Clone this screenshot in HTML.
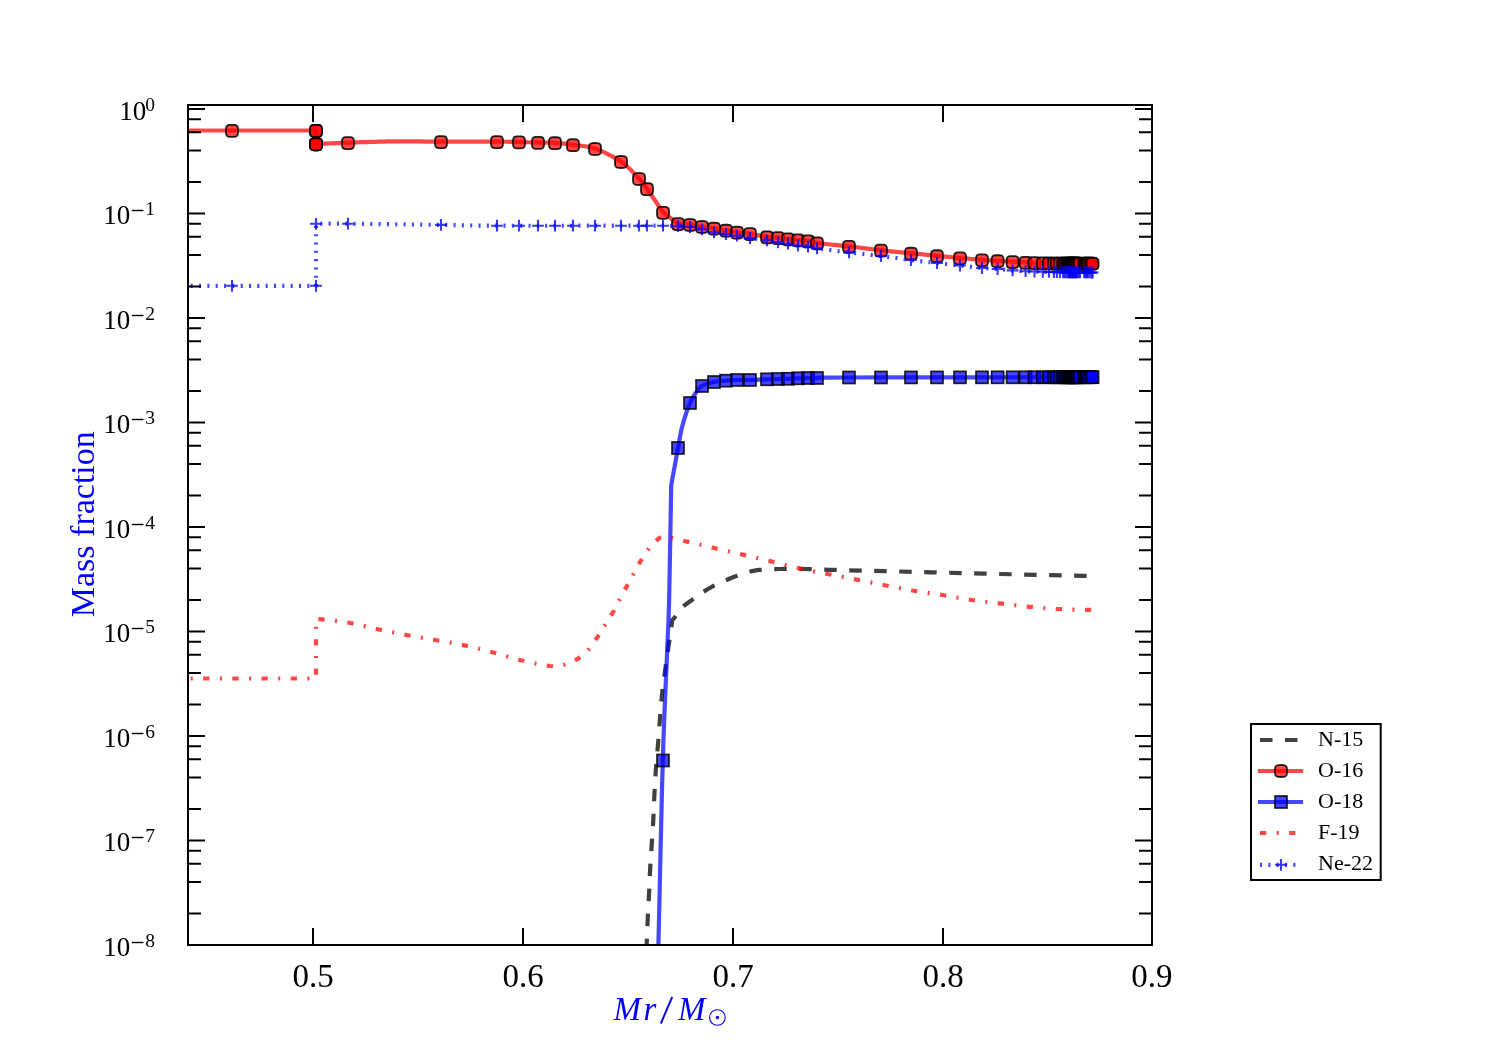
<!DOCTYPE html>
<html><head><meta charset="utf-8"><title>Mass fraction</title>
<style>html,body{margin:0;padding:0;background:#fff;}svg{display:block;will-change:transform;}</style></head>
<body><svg width="1500" height="1050" viewBox="0 0 1500 1050">
<rect x="0" y="0" width="1500" height="1050" fill="#fff"/>
<defs><path id="m16" d="M6.00 0.00 L5.97 1.94 L5.89 2.83 L5.74 3.52 L5.54 4.08 L5.28 4.55 L4.95 4.95 L4.55 5.28 L4.08 5.54 L3.52 5.74 L2.83 5.89 L1.94 5.97 L0.00 6.00 L-1.94 5.97 L-2.83 5.89 L-3.52 5.74 L-4.08 5.54 L-4.55 5.28 L-4.95 4.95 L-5.28 4.55 L-5.54 4.08 L-5.74 3.52 L-5.89 2.83 L-5.97 1.94 L-6.00 0.00 L-5.97 -1.94 L-5.89 -2.83 L-5.74 -3.52 L-5.54 -4.08 L-5.28 -4.55 L-4.95 -4.95 L-4.55 -5.28 L-4.08 -5.54 L-3.52 -5.74 L-2.83 -5.89 L-1.94 -5.97 L-0.00 -6.00 L1.94 -5.97 L2.83 -5.89 L3.52 -5.74 L4.08 -5.54 L4.55 -5.28 L4.95 -4.95 L5.28 -4.55 L5.54 -4.08 L5.74 -3.52 L5.89 -2.83 L5.97 -1.94Z" fill="rgba(255,0,0,0.72)" stroke="rgba(0,0,0,0.85)" stroke-width="1.8"/>
<rect id="m18" x="-6" y="-6" width="12" height="12" fill="rgba(0,0,255,0.72)" stroke="rgba(0,0,0,0.85)" stroke-width="1.7"/></defs>
<defs><clipPath id="ax"><rect x="188" y="105" width="964" height="840"/></clipPath></defs>
<g clip-path="url(#ax)">
<path d="M643.90 1010.00 L644.24 1001.94 L644.73 990.35 L645.29 976.84 L645.87 963.04 L646.40 950.55 L646.80 941.00 L647.06 934.70 L647.23 930.43 L647.35 927.48 L647.44 925.14 L647.55 922.71 L647.70 919.50 L647.90 915.59 L648.11 911.55 L648.34 907.43 L648.57 903.25 L648.79 899.06 L649.00 894.90 L649.19 890.75 L649.36 886.57 L649.53 882.38 L649.70 878.19 L649.89 873.99 L650.10 869.80 L650.34 865.62 L650.60 861.43 L650.87 857.25 L651.15 853.07 L651.43 848.88 L651.70 844.70 L651.97 840.52 L652.25 836.33 L652.53 832.14 L652.80 827.96 L653.06 823.78 L653.30 819.60 L653.51 815.43 L653.69 811.28 L653.86 807.12 L654.02 802.97 L654.20 798.79 L654.40 794.60 L654.62 790.37 L654.85 786.11 L655.09 781.84 L655.34 777.57 L655.61 773.32 L655.90 769.10 L656.22 764.93 L656.56 760.79 L656.92 756.66 L657.29 752.55 L657.65 748.43 L658.00 744.30 L658.33 740.15 L658.64 736.00 L658.95 731.85 L659.26 727.70 L659.57 723.55 L659.90 719.40 L660.23 715.25 L660.55 711.10 L660.87 706.96 L661.22 702.82 L661.59 698.70 L662.00 694.60 L662.45 690.54 L662.94 686.51 L663.46 682.49 L664.00 678.48 L664.55 674.46 L665.10 670.40 L665.67 666.24 L666.26 661.98 L666.87 657.71 L667.47 653.51 L668.05 649.48 L668.60 645.70 L669.13 642.10 L669.66 638.59 L670.16 635.24 L670.63 632.14 L671.05 629.37 L671.40 627.00 L671.67 625.08 L671.87 623.54 L672.02 622.33 L672.14 621.38 L672.22 620.63 L672.30 620.00 L672.54 619.75 L672.81 619.48 L673.17 619.12 L673.63 618.63 L674.23 617.94 L675.00 617.00 L675.96 615.71 L677.10 614.10 L678.38 612.29 L679.76 610.42 L681.21 608.61 L682.70 607.00 L684.27 605.58 L685.94 604.25 L687.69 602.98 L689.47 601.75 L691.25 600.53 L693.00 599.30 L694.71 598.05 L696.42 596.80 L698.12 595.56 L699.84 594.34 L701.56 593.15 L703.30 592.00 L705.05 590.88 L706.80 589.79 L708.56 588.73 L710.34 587.70 L712.15 586.69 L714.00 585.70 L715.89 584.74 L717.83 583.80 L719.79 582.89 L721.77 582.01 L723.74 581.14 L725.70 580.30 L727.56 579.50 L729.32 578.73 L731.08 577.99 L732.93 577.26 L734.97 576.50 L737.30 575.70 L739.92 574.81 L742.76 573.84 L745.79 572.85 L748.99 571.90 L752.33 571.07 L755.80 570.40 L759.44 569.92 L763.29 569.59 L767.28 569.37 L771.37 569.22 L775.49 569.11 L779.60 569.00 L783.72 568.91 L787.90 568.87 L792.11 568.86 L796.35 568.89 L800.58 568.94 L804.80 569.00 L808.48 569.08 L811.54 569.17 L814.60 569.29 L818.28 569.44 L823.21 569.61 L830.00 569.80 L838.73 570.02 L848.90 570.27 L860.33 570.54 L872.79 570.84 L886.08 571.16 L900.00 571.50 L915.02 571.88 L931.39 572.29 L948.59 572.73 L966.10 573.17 L983.41 573.60 L1000.00 574.00 L1016.93 574.39 L1034.84 574.78 L1052.55 575.16 L1068.87 575.50 L1082.61 575.79 L1092.60 576.00" fill="none" stroke="rgba(0,0,0,0.75)" stroke-width="4.20" stroke-dasharray="12.5 12.5" stroke-dashoffset="-9" stroke-linejoin="round"/>
<path d="M174.00 130.50 L316.00 130.50 L316.00 143.90 L319.54 143.77 L324.48 143.58 L330.31 143.36 L336.52 143.12 L342.59 142.90 L348.00 142.70 L352.80 142.53 L357.41 142.36 L361.88 142.21 L366.26 142.06 L370.62 141.92 L375.00 141.80 L379.23 141.68 L383.22 141.57 L387.19 141.47 L391.33 141.39 L395.87 141.33 L401.00 141.30 L406.67 141.32 L412.70 141.38 L419.12 141.47 L425.96 141.56 L433.25 141.65 L441.00 141.70 L449.80 141.72 L459.74 141.72 L470.12 141.71 L480.26 141.69 L489.45 141.69 L497.00 141.70 L502.67 141.73 L506.96 141.77 L510.31 141.82 L513.15 141.87 L515.90 141.93 L519.00 142.00 L522.36 142.07 L525.63 142.16 L528.81 142.25 L531.93 142.34 L534.98 142.43 L538.00 142.50 L540.94 142.54 L543.78 142.55 L546.56 142.56 L549.33 142.58 L552.13 142.65 L555.00 142.80 L557.90 143.01 L560.78 143.27 L563.69 143.58 L566.67 143.94 L569.76 144.34 L573.00 144.80 L576.39 145.22 L579.89 145.59 L583.50 146.01 L587.22 146.59 L591.06 147.41 L595.00 148.60 L599.19 150.19 L603.67 152.10 L608.25 154.28 L612.78 156.63 L617.08 159.10 L621.00 161.60 L624.58 164.28 L627.96 167.22 L631.12 170.27 L634.04 173.29 L636.67 176.11 L639.00 178.60 L640.82 180.54 L642.11 182.01 L643.12 183.29 L644.11 184.66 L645.32 186.40 L647.00 188.80 L649.39 192.23 L652.33 196.55 L655.50 201.24 L658.56 205.79 L661.17 209.68 L663.00 212.40 L678.00 223.70 L679.31 223.79 L681.11 223.89 L683.25 224.02 L685.56 224.19 L687.86 224.38 L690.00 224.60 L692.00 224.87 L694.00 225.20 L696.00 225.55 L698.00 225.91 L700.00 226.27 L702.00 226.60 L704.00 226.90 L706.00 227.18 L708.00 227.45 L710.00 227.72 L712.00 228.00 L714.00 228.30 L716.01 228.62 L718.04 228.94 L720.06 229.28 L722.07 229.62 L724.06 229.96 L726.00 230.30 L727.87 230.64 L729.67 230.99 L731.44 231.34 L733.22 231.68 L735.06 232.00 L737.00 232.30 L739.00 232.55 L741.04 232.74 L743.12 232.92 L745.30 233.11 L747.58 233.36 L750.00 233.70 L752.67 234.17 L755.59 234.76 L758.62 235.39 L761.63 236.02 L764.47 236.58 L767.00 237.00 L769.19 237.26 L771.15 237.40 L772.94 237.47 L774.63 237.52 L776.29 237.58 L778.00 237.70 L779.72 237.89 L781.41 238.10 L783.06 238.33 L784.70 238.57 L786.34 238.79 L788.00 239.00 L789.67 239.18 L791.33 239.36 L793.00 239.52 L794.67 239.68 L796.33 239.84 L798.00 240.00 L799.68 240.16 L801.37 240.30 L803.06 240.44 L804.74 240.59 L806.39 240.78 L808.00 241.00 L809.29 241.26 L810.22 241.54 L811.12 241.85 L812.33 242.19 L814.18 242.57 L817.00 243.00 L821.00 243.48 L825.96 244.01 L831.56 244.59 L837.48 245.19 L843.40 245.79 L849.00 246.40 L854.36 247.02 L859.74 247.66 L865.12 248.32 L870.48 248.97 L875.78 249.60 L881.00 250.20 L886.16 250.76 L891.30 251.31 L896.38 251.83 L901.37 252.34 L906.25 252.83 L911.00 253.30 L915.60 253.75 L920.07 254.19 L924.44 254.61 L928.70 255.01 L932.89 255.41 L937.00 255.80 L941.02 256.19 L944.93 256.57 L948.75 256.94 L952.52 257.30 L956.26 257.65 L960.00 258.00 L963.80 258.35 L967.64 258.69 L971.46 259.03 L975.18 259.35 L978.72 259.64 L982.00 259.90 L984.98 260.11 L987.70 260.27 L990.24 260.41 L992.68 260.54 L995.11 260.66 L997.60 260.80 L1000.16 260.95 L1002.72 261.11 L1005.26 261.26 L1007.77 261.41 L1010.22 261.56 L1012.60 261.70 L1014.93 261.83 L1017.23 261.96 L1019.48 262.09 L1021.64 262.20 L1023.69 262.31 L1025.60 262.40 L1027.33 262.47 L1028.89 262.53 L1030.34 262.57 L1031.73 262.61 L1033.10 262.65 L1034.50 262.70 L1035.82 262.75 L1036.98 262.80 L1038.13 262.86 L1039.40 262.91 L1040.91 262.96 L1042.80 263.00 L1044.97 263.04 L1047.30 263.08 L1049.88 263.11 L1052.80 263.14 L1056.14 263.17 L1060.00 263.20 L1064.92 263.22 L1070.93 263.24 L1077.38 263.26 L1083.58 263.28 L1088.87 263.29 L1092.60 263.30" fill="none" stroke="rgba(255,0,0,0.72)" stroke-width="4.20" stroke-linejoin="round" stroke-linecap="square"/>
<use href="#m16" x="232.00" y="130.90"/>
<use href="#m16" x="316.00" y="130.90"/>
<use href="#m16" x="316.00" y="130.90"/>
<use href="#m16" x="316.00" y="144.30"/>
<use href="#m16" x="316.00" y="144.30"/>
<use href="#m16" x="316.00" y="144.30"/>
<use href="#m16" x="348.00" y="143.10"/>
<use href="#m16" x="441.00" y="142.10"/>
<use href="#m16" x="497.00" y="142.10"/>
<use href="#m16" x="519.00" y="142.40"/>
<use href="#m16" x="538.00" y="142.90"/>
<use href="#m16" x="555.00" y="143.20"/>
<use href="#m16" x="573.00" y="145.20"/>
<use href="#m16" x="595.00" y="149.00"/>
<use href="#m16" x="621.00" y="162.00"/>
<use href="#m16" x="639.00" y="179.00"/>
<use href="#m16" x="647.00" y="189.20"/>
<use href="#m16" x="663.00" y="212.80"/>
<use href="#m16" x="678.00" y="224.10"/>
<use href="#m16" x="690.00" y="225.00"/>
<use href="#m16" x="702.00" y="227.00"/>
<use href="#m16" x="714.00" y="228.70"/>
<use href="#m16" x="726.00" y="230.70"/>
<use href="#m16" x="737.00" y="232.70"/>
<use href="#m16" x="750.00" y="234.10"/>
<use href="#m16" x="767.00" y="237.40"/>
<use href="#m16" x="778.00" y="238.10"/>
<use href="#m16" x="788.00" y="239.40"/>
<use href="#m16" x="798.00" y="240.40"/>
<use href="#m16" x="808.00" y="241.40"/>
<use href="#m16" x="817.00" y="243.40"/>
<use href="#m16" x="849.00" y="246.80"/>
<use href="#m16" x="881.00" y="250.60"/>
<use href="#m16" x="911.00" y="253.70"/>
<use href="#m16" x="937.00" y="256.20"/>
<use href="#m16" x="960.00" y="258.40"/>
<use href="#m16" x="982.00" y="260.30"/>
<use href="#m16" x="997.60" y="261.20"/>
<use href="#m16" x="1012.60" y="262.10"/>
<use href="#m16" x="1025.60" y="262.80"/>
<use href="#m16" x="1034.50" y="263.10"/>
<use href="#m16" x="1042.80" y="263.40"/>
<use href="#m16" x="1049.00" y="263.47"/>
<use href="#m16" x="1053.90" y="263.53"/>
<use href="#m16" x="1056.90" y="263.56"/>
<use href="#m16" x="1059.90" y="263.60"/>
<use href="#m16" x="1063.20" y="263.61"/>
<use href="#m16" x="1064.80" y="263.61"/>
<use href="#m16" x="1066.40" y="263.62"/>
<use href="#m16" x="1068.00" y="263.62"/>
<use href="#m16" x="1069.00" y="263.63"/>
<use href="#m16" x="1069.80" y="263.63"/>
<use href="#m16" x="1070.60" y="263.63"/>
<use href="#m16" x="1071.40" y="263.63"/>
<use href="#m16" x="1072.20" y="263.64"/>
<use href="#m16" x="1073.00" y="263.64"/>
<use href="#m16" x="1073.80" y="263.64"/>
<use href="#m16" x="1074.60" y="263.64"/>
<use href="#m16" x="1075.40" y="263.65"/>
<use href="#m16" x="1076.20" y="263.65"/>
<use href="#m16" x="1077.00" y="263.65"/>
<use href="#m16" x="1078.50" y="263.66"/>
<use href="#m16" x="1080.00" y="263.66"/>
<use href="#m16" x="1084.20" y="263.67"/>
<use href="#m16" x="1085.50" y="263.68"/>
<use href="#m16" x="1086.80" y="263.68"/>
<use href="#m16" x="1087.80" y="263.69"/>
<use href="#m16" x="1089.50" y="263.69"/>
<use href="#m16" x="1091.40" y="263.70"/>
<use href="#m16" x="1092.60" y="263.70"/>
<path d="M656.20 1010.00 L656.41 1004.18 L656.69 997.24 L657.02 988.47 L657.42 977.15 L657.88 962.56 L658.40 944.00 L659.01 919.37 L659.70 888.83 L660.46 855.03 L661.25 820.61 L662.04 788.22 L662.80 760.50 L663.56 737.16 L664.36 716.02 L665.16 696.91 L665.92 679.65 L666.61 664.07 L667.20 650.00 L667.66 638.91 L668.01 631.24 L668.29 625.26 L668.54 619.21 L668.80 611.37 L669.10 600.00 L669.46 583.31 L669.86 562.34 L670.27 539.58 L670.65 517.50 L670.97 498.62 L671.20 485.40 L671.98 481.11 L673.09 474.99 L674.39 467.82 L675.74 460.41 L676.99 453.54 L678.00 448.00 L678.79 443.67 L679.48 439.90 L680.08 436.66 L680.57 433.95 L680.98 431.73 L681.30 430.00 L681.66 428.66 L682.14 426.83 L682.72 424.66 L683.38 422.28 L684.08 419.84 L684.80 417.50 L685.56 415.15 L686.38 412.67 L687.24 410.12 L688.14 407.61 L689.07 405.21 L690.00 403.00 L690.95 400.97 L691.94 399.06 L692.95 397.25 L693.97 395.56 L694.99 393.97 L696.00 392.50 L696.93 391.16 L697.78 389.94 L698.62 388.84 L699.56 387.83 L700.65 386.89 L702.00 386.00 L703.65 385.16 L705.56 384.38 L707.62 383.68 L709.78 383.04 L711.93 382.48 L714.00 382.00 L716.01 381.62 L718.04 381.34 L720.06 381.14 L722.07 380.99 L724.06 380.85 L726.00 380.70 L727.87 380.54 L729.67 380.40 L731.44 380.27 L733.22 380.16 L735.06 380.07 L737.00 380.00 L739.00 379.97 L741.04 379.97 L743.12 380.00 L745.30 380.03 L747.58 380.03 L750.00 380.00 L752.67 379.92 L755.59 379.80 L758.62 379.67 L761.63 379.53 L764.47 379.40 L767.00 379.30 L769.19 379.23 L771.15 379.17 L772.94 379.12 L774.63 379.08 L776.29 379.04 L778.00 379.00 L779.72 378.96 L781.41 378.94 L783.06 378.91 L784.70 378.89 L786.34 378.85 L788.00 378.80 L789.67 378.73 L791.33 378.65 L793.00 378.56 L794.67 378.46 L796.33 378.38 L798.00 378.30 L799.68 378.23 L801.37 378.17 L803.06 378.12 L804.74 378.07 L806.39 378.03 L808.00 378.00 L809.29 377.99 L810.22 378.00 L811.12 378.01 L812.33 378.03 L814.18 378.03 L817.00 378.00 L818.55 377.94 L818.13 377.86 L818.34 377.77 L821.81 377.67 L831.16 377.58 L849.00 377.50 L880.17 377.43 L923.55 377.37 L972.80 377.32 L1021.61 377.27 L1063.65 377.23 L1092.60 377.20" fill="none" stroke="rgba(0,0,255,0.72)" stroke-width="4.20" stroke-linejoin="round" stroke-linecap="square"/>
<use href="#m18" x="663.00" y="760.50"/>
<use href="#m18" x="678.00" y="448.00"/>
<use href="#m18" x="690.00" y="403.00"/>
<use href="#m18" x="702.00" y="386.00"/>
<use href="#m18" x="714.00" y="382.00"/>
<use href="#m18" x="726.00" y="380.70"/>
<use href="#m18" x="737.00" y="380.00"/>
<use href="#m18" x="750.00" y="380.00"/>
<use href="#m18" x="767.00" y="379.30"/>
<use href="#m18" x="778.00" y="379.00"/>
<use href="#m18" x="788.00" y="378.80"/>
<use href="#m18" x="798.00" y="378.30"/>
<use href="#m18" x="808.00" y="378.00"/>
<use href="#m18" x="817.00" y="378.00"/>
<use href="#m18" x="849.00" y="377.50"/>
<use href="#m18" x="881.00" y="377.46"/>
<use href="#m18" x="911.00" y="377.42"/>
<use href="#m18" x="937.00" y="377.39"/>
<use href="#m18" x="960.00" y="377.36"/>
<use href="#m18" x="982.00" y="377.34"/>
<use href="#m18" x="997.60" y="377.32"/>
<use href="#m18" x="1012.60" y="377.30"/>
<use href="#m18" x="1025.60" y="377.28"/>
<use href="#m18" x="1034.50" y="377.27"/>
<use href="#m18" x="1042.80" y="377.26"/>
<use href="#m18" x="1049.00" y="377.25"/>
<use href="#m18" x="1053.90" y="377.25"/>
<use href="#m18" x="1056.90" y="377.24"/>
<use href="#m18" x="1059.90" y="377.24"/>
<use href="#m18" x="1063.20" y="377.24"/>
<use href="#m18" x="1064.80" y="377.23"/>
<use href="#m18" x="1066.40" y="377.23"/>
<use href="#m18" x="1068.00" y="377.23"/>
<use href="#m18" x="1069.00" y="377.23"/>
<use href="#m18" x="1069.80" y="377.23"/>
<use href="#m18" x="1070.60" y="377.23"/>
<use href="#m18" x="1071.40" y="377.23"/>
<use href="#m18" x="1072.20" y="377.23"/>
<use href="#m18" x="1073.00" y="377.22"/>
<use href="#m18" x="1073.80" y="377.22"/>
<use href="#m18" x="1074.60" y="377.22"/>
<use href="#m18" x="1075.40" y="377.22"/>
<use href="#m18" x="1076.20" y="377.22"/>
<use href="#m18" x="1077.00" y="377.22"/>
<use href="#m18" x="1078.50" y="377.22"/>
<use href="#m18" x="1080.00" y="377.22"/>
<use href="#m18" x="1084.20" y="377.21"/>
<use href="#m18" x="1085.50" y="377.21"/>
<use href="#m18" x="1086.80" y="377.21"/>
<use href="#m18" x="1087.80" y="377.21"/>
<use href="#m18" x="1089.50" y="377.20"/>
<use href="#m18" x="1091.40" y="377.20"/>
<use href="#m18" x="1092.60" y="377.20"/>
<path d="M174 678.5 L316 678.5 L316 618.7 L316.00 618.70 L319.80 619.14 L325.10 619.73 L331.36 620.44 L338.02 621.24 L344.52 622.11 L350.30 623.00 L355.40 623.97 L360.26 625.03 L364.96 626.16 L369.58 627.31 L374.20 628.44 L378.90 629.50 L383.66 630.50 L388.42 631.49 L393.18 632.44 L397.94 633.38 L402.72 634.30 L407.50 635.20 L412.31 636.07 L417.14 636.91 L421.97 637.73 L426.81 638.54 L431.62 639.36 L436.40 640.20 L441.14 641.03 L445.84 641.85 L450.52 642.67 L455.20 643.52 L459.88 644.42 L464.60 645.40 L469.35 646.47 L474.13 647.60 L478.93 648.79 L483.71 650.01 L488.48 651.25 L493.20 652.50 L497.87 653.78 L502.49 655.13 L507.08 656.49 L511.68 657.83 L516.31 659.11 L521.00 660.30 L525.92 661.45 L531.09 662.61 L536.28 663.71 L541.29 664.69 L545.90 665.47 L549.90 666.00 L553.17 666.25 L555.86 666.28 L558.15 666.12 L560.22 665.80 L562.24 665.35 L564.40 664.80 L566.66 664.14 L568.88 663.34 L571.06 662.42 L573.19 661.38 L575.27 660.23 L577.30 659.00 L579.30 657.66 L581.26 656.20 L583.17 654.63 L585.02 652.98 L586.80 651.27 L588.50 649.50 L590.09 647.66 L591.59 645.72 L593.02 643.72 L594.40 641.68 L595.75 639.63 L597.10 637.60 L598.44 635.58 L599.74 633.55 L601.01 631.51 L602.27 629.47 L603.53 627.43 L604.80 625.40 L606.08 623.39 L607.37 621.39 L608.66 619.40 L609.93 617.40 L611.18 615.37 L612.40 613.30 L613.58 611.18 L614.72 609.03 L615.84 606.84 L616.96 604.65 L618.07 602.47 L619.20 600.30 L620.34 598.15 L621.49 596.01 L622.64 593.87 L623.80 591.74 L624.95 589.62 L626.10 587.50 L627.25 585.39 L628.40 583.28 L629.56 581.18 L630.71 579.09 L631.86 576.99 L633.00 574.90 L634.12 572.81 L635.21 570.73 L636.31 568.66 L637.42 566.58 L638.58 564.49 L639.80 562.40 L641.09 560.27 L642.43 558.11 L643.81 555.94 L645.23 553.79 L646.69 551.70 L648.20 549.70 L649.80 547.71 L651.50 545.69 L653.24 543.73 L654.97 541.91 L656.61 540.30 L658.10 539.00 L659.43 538.03 L660.66 537.32 L661.79 536.83 L662.88 536.51 L663.94 536.32 L665.00 536.20 L665.95 536.19 L666.75 536.34 L667.52 536.61 L668.40 536.96 L669.52 537.37 L671.00 537.80 L672.93 538.28 L675.23 538.84 L677.77 539.46 L680.41 540.09 L683.03 540.72 L685.50 541.30 L687.82 541.83 L690.09 542.34 L692.34 542.84 L694.60 543.34 L696.87 543.86 L699.20 544.40 L701.43 544.94 L703.50 545.46 L705.61 545.99 L707.91 546.57 L710.58 547.23 L713.80 548.00 L717.67 548.90 L722.09 549.90 L726.87 550.99 L731.87 552.12 L736.90 553.27 L741.80 554.40 L746.64 555.53 L751.55 556.69 L756.50 557.86 L761.45 559.04 L766.36 560.23 L771.20 561.40 L775.95 562.58 L780.64 563.79 L785.29 564.99 L789.92 566.17 L794.55 567.31 L799.20 568.40 L803.85 569.41 L808.48 570.37 L813.11 571.29 L817.76 572.19 L822.45 573.08 L827.20 574.00 L832.04 574.93 L836.95 575.87 L841.90 576.80 L846.85 577.73 L851.76 578.67 L856.60 579.60 L861.33 580.53 L865.99 581.47 L870.60 582.40 L875.21 583.33 L879.87 584.27 L884.60 585.20 L889.44 586.15 L894.35 587.12 L899.30 588.09 L904.25 589.04 L909.16 589.95 L914.00 590.80 L918.75 591.57 L923.44 592.28 L928.09 592.95 L932.72 593.61 L937.35 594.28 L942.00 595.00 L946.65 595.78 L951.28 596.60 L955.91 597.44 L960.56 598.27 L965.25 599.06 L970.00 599.80 L974.82 600.47 L979.70 601.10 L984.61 601.69 L989.55 602.26 L994.48 602.83 L999.40 603.40 L1004.32 603.99 L1009.25 604.59 L1014.19 605.19 L1019.10 605.76 L1023.98 606.31 L1028.80 606.80 L1033.46 607.25 L1037.95 607.67 L1042.40 608.05 L1046.94 608.40 L1051.70 608.72 L1056.80 609.00 L1062.73 609.25 L1069.48 609.46 L1076.45 609.64 L1083.03 609.79 L1088.61 609.91 L1092.60 610.00" fill="none" stroke="rgba(255,0,0,0.72)" stroke-width="4.20" stroke-dasharray="6.25 10.42 2.08 10.42" stroke-linejoin="round"/>
<path d="M174 285.8 L316 285.8 L316 223.8 L316.00 223.80 L318.78 223.77 L322.04 223.73 L326.19 223.68 L331.63 223.64 L338.77 223.64 L348.00 223.70 L360.40 223.83 L375.85 224.02 L393.00 224.24 L410.48 224.48 L426.94 224.71 L441.00 224.90 L451.20 225.07 L458.33 225.23 L464.44 225.38 L471.56 225.51 L481.73 225.62 L497.00 225.70 L520.05 225.74 L549.78 225.74 L582.56 225.72 L614.78 225.69 L642.80 225.68 L663.00 225.70 L674.27 225.75 L679.30 225.82 L680.12 225.90 L678.81 225.99 L677.42 226.09 L678.00 226.20 L680.17 226.30 L682.22 226.39 L684.19 226.49 L686.11 226.61 L688.03 226.78 L690.00 227.00 L692.00 227.29 L694.00 227.63 L696.00 228.01 L698.00 228.43 L700.00 228.86 L702.00 229.30 L704.00 229.77 L706.00 230.30 L708.00 230.84 L710.00 231.37 L712.00 231.87 L714.00 232.30 L716.01 232.66 L718.04 232.96 L720.06 233.23 L722.07 233.48 L724.06 233.73 L726.00 234.00 L727.87 234.28 L729.67 234.54 L731.44 234.81 L733.22 235.09 L735.06 235.38 L737.00 235.70 L739.00 236.05 L741.04 236.42 L743.12 236.81 L745.30 237.21 L747.58 237.61 L750.00 238.00 L752.67 238.39 L755.59 238.78 L758.62 239.17 L761.63 239.56 L764.47 239.93 L767.00 240.30 L769.19 240.66 L771.15 241.01 L772.94 241.36 L774.63 241.69 L776.29 242.00 L778.00 242.30 L779.72 242.56 L781.41 242.80 L783.06 243.01 L784.70 243.23 L786.34 243.45 L788.00 243.70 L789.67 243.98 L791.33 244.30 L793.00 244.62 L794.67 244.94 L796.33 245.24 L798.00 245.50 L799.68 245.72 L801.37 245.90 L803.06 246.06 L804.74 246.21 L806.39 246.39 L808.00 246.60 L809.29 246.82 L810.22 247.03 L811.12 247.26 L812.33 247.53 L814.18 247.87 L817.00 248.30 L821.00 248.85 L825.96 249.51 L831.56 250.23 L837.48 250.98 L843.40 251.72 L849.00 252.40 L854.36 253.02 L859.74 253.62 L865.12 254.21 L870.48 254.79 L875.78 255.38 L881.00 256.00 L886.16 256.66 L891.30 257.34 L896.38 258.04 L901.37 258.73 L906.25 259.39 L911.00 260.00 L915.60 260.56 L920.07 261.09 L924.44 261.59 L928.70 262.07 L932.89 262.54 L937.00 263.00 L941.02 263.45 L944.93 263.87 L948.75 264.28 L952.52 264.69 L956.26 265.09 L960.00 265.50 L963.80 265.93 L967.64 266.39 L971.46 266.84 L975.18 267.28 L978.72 267.67 L982.00 268.00 L984.98 268.25 L987.70 268.43 L990.24 268.57 L992.68 268.69 L995.11 268.83 L997.60 269.00 L1000.16 269.22 L1002.72 269.46 L1005.26 269.71 L1007.77 269.96 L1010.22 270.20 L1012.60 270.40 L1014.83 270.57 L1016.93 270.72 L1018.96 270.85 L1021.03 270.97 L1023.21 271.09 L1025.60 271.20 L1028.22 271.31 L1031.02 271.42 L1033.94 271.53 L1036.91 271.62 L1039.88 271.71 L1042.80 271.80 L1045.49 271.88 L1047.96 271.95 L1050.44 272.02 L1053.13 272.08 L1056.24 272.14 L1060.00 272.20 L1064.92 272.26 L1070.93 272.32 L1077.38 272.38 L1083.58 272.43 L1088.87 272.47 L1092.60 272.50" fill="none" stroke="rgba(0,0,255,0.72)" stroke-width="4.20" stroke-dasharray="2.08 6.25" stroke-linejoin="round"/>
<path d="M226.10 285.80h11.8M232.00 279.90v11.8" stroke="rgba(0,0,255,0.78)" stroke-width="2.1" fill="none"/>
<path d="M310.10 285.80h11.8M316.00 279.90v11.8" stroke="rgba(0,0,255,0.78)" stroke-width="2.1" fill="none"/>
<path d="M310.10 223.80h11.8M316.00 217.90v11.8" stroke="rgba(0,0,255,0.78)" stroke-width="2.1" fill="none"/>
<path d="M342.10 223.70h11.8M348.00 217.80v11.8" stroke="rgba(0,0,255,0.78)" stroke-width="2.1" fill="none"/>
<path d="M435.10 224.90h11.8M441.00 219.00v11.8" stroke="rgba(0,0,255,0.78)" stroke-width="2.1" fill="none"/>
<path d="M491.10 225.70h11.8M497.00 219.80v11.8" stroke="rgba(0,0,255,0.78)" stroke-width="2.1" fill="none"/>
<path d="M513.10 225.70h11.8M519.00 219.80v11.8" stroke="rgba(0,0,255,0.78)" stroke-width="2.1" fill="none"/>
<path d="M532.10 225.70h11.8M538.00 219.80v11.8" stroke="rgba(0,0,255,0.78)" stroke-width="2.1" fill="none"/>
<path d="M549.10 225.70h11.8M555.00 219.80v11.8" stroke="rgba(0,0,255,0.78)" stroke-width="2.1" fill="none"/>
<path d="M567.10 225.70h11.8M573.00 219.80v11.8" stroke="rgba(0,0,255,0.78)" stroke-width="2.1" fill="none"/>
<path d="M589.10 225.70h11.8M595.00 219.80v11.8" stroke="rgba(0,0,255,0.78)" stroke-width="2.1" fill="none"/>
<path d="M615.10 225.70h11.8M621.00 219.80v11.8" stroke="rgba(0,0,255,0.78)" stroke-width="2.1" fill="none"/>
<path d="M633.10 225.70h11.8M639.00 219.80v11.8" stroke="rgba(0,0,255,0.78)" stroke-width="2.1" fill="none"/>
<path d="M641.10 225.70h11.8M647.00 219.80v11.8" stroke="rgba(0,0,255,0.78)" stroke-width="2.1" fill="none"/>
<path d="M657.10 225.70h11.8M663.00 219.80v11.8" stroke="rgba(0,0,255,0.78)" stroke-width="2.1" fill="none"/>
<path d="M672.10 226.20h11.8M678.00 220.30v11.8" stroke="rgba(0,0,255,0.78)" stroke-width="2.1" fill="none"/>
<path d="M684.10 227.00h11.8M690.00 221.10v11.8" stroke="rgba(0,0,255,0.78)" stroke-width="2.1" fill="none"/>
<path d="M696.10 229.30h11.8M702.00 223.40v11.8" stroke="rgba(0,0,255,0.78)" stroke-width="2.1" fill="none"/>
<path d="M708.10 232.30h11.8M714.00 226.40v11.8" stroke="rgba(0,0,255,0.78)" stroke-width="2.1" fill="none"/>
<path d="M720.10 234.00h11.8M726.00 228.10v11.8" stroke="rgba(0,0,255,0.78)" stroke-width="2.1" fill="none"/>
<path d="M731.10 235.70h11.8M737.00 229.80v11.8" stroke="rgba(0,0,255,0.78)" stroke-width="2.1" fill="none"/>
<path d="M744.10 238.00h11.8M750.00 232.10v11.8" stroke="rgba(0,0,255,0.78)" stroke-width="2.1" fill="none"/>
<path d="M761.10 240.30h11.8M767.00 234.40v11.8" stroke="rgba(0,0,255,0.78)" stroke-width="2.1" fill="none"/>
<path d="M772.10 242.30h11.8M778.00 236.40v11.8" stroke="rgba(0,0,255,0.78)" stroke-width="2.1" fill="none"/>
<path d="M782.10 243.70h11.8M788.00 237.80v11.8" stroke="rgba(0,0,255,0.78)" stroke-width="2.1" fill="none"/>
<path d="M792.10 245.50h11.8M798.00 239.60v11.8" stroke="rgba(0,0,255,0.78)" stroke-width="2.1" fill="none"/>
<path d="M802.10 246.60h11.8M808.00 240.70v11.8" stroke="rgba(0,0,255,0.78)" stroke-width="2.1" fill="none"/>
<path d="M811.10 248.30h11.8M817.00 242.40v11.8" stroke="rgba(0,0,255,0.78)" stroke-width="2.1" fill="none"/>
<path d="M843.10 252.40h11.8M849.00 246.50v11.8" stroke="rgba(0,0,255,0.78)" stroke-width="2.1" fill="none"/>
<path d="M875.10 256.00h11.8M881.00 250.10v11.8" stroke="rgba(0,0,255,0.78)" stroke-width="2.1" fill="none"/>
<path d="M905.10 260.00h11.8M911.00 254.10v11.8" stroke="rgba(0,0,255,0.78)" stroke-width="2.1" fill="none"/>
<path d="M931.10 263.00h11.8M937.00 257.10v11.8" stroke="rgba(0,0,255,0.78)" stroke-width="2.1" fill="none"/>
<path d="M954.10 265.50h11.8M960.00 259.60v11.8" stroke="rgba(0,0,255,0.78)" stroke-width="2.1" fill="none"/>
<path d="M976.10 268.00h11.8M982.00 262.10v11.8" stroke="rgba(0,0,255,0.78)" stroke-width="2.1" fill="none"/>
<path d="M991.70 269.00h11.8M997.60 263.10v11.8" stroke="rgba(0,0,255,0.78)" stroke-width="2.1" fill="none"/>
<path d="M1006.70 270.40h11.8M1012.60 264.50v11.8" stroke="rgba(0,0,255,0.78)" stroke-width="2.1" fill="none"/>
<path d="M1019.70 271.20h11.8M1025.60 265.30v11.8" stroke="rgba(0,0,255,0.78)" stroke-width="2.1" fill="none"/>
<path d="M1028.60 271.51h11.8M1034.50 265.61v11.8" stroke="rgba(0,0,255,0.78)" stroke-width="2.1" fill="none"/>
<path d="M1036.90 271.80h11.8M1042.80 265.90v11.8" stroke="rgba(0,0,255,0.78)" stroke-width="2.1" fill="none"/>
<path d="M1043.10 271.94h11.8M1049.00 266.04v11.8" stroke="rgba(0,0,255,0.78)" stroke-width="2.1" fill="none"/>
<path d="M1048.00 272.06h11.8M1053.90 266.16v11.8" stroke="rgba(0,0,255,0.78)" stroke-width="2.1" fill="none"/>
<path d="M1051.00 272.13h11.8M1056.90 266.23v11.8" stroke="rgba(0,0,255,0.78)" stroke-width="2.1" fill="none"/>
<path d="M1054.00 272.20h11.8M1059.90 266.30v11.8" stroke="rgba(0,0,255,0.78)" stroke-width="2.1" fill="none"/>
<path d="M1057.30 272.23h11.8M1063.20 266.33v11.8" stroke="rgba(0,0,255,0.78)" stroke-width="2.1" fill="none"/>
<path d="M1058.90 272.24h11.8M1064.80 266.34v11.8" stroke="rgba(0,0,255,0.78)" stroke-width="2.1" fill="none"/>
<path d="M1060.50 272.26h11.8M1066.40 266.36v11.8" stroke="rgba(0,0,255,0.78)" stroke-width="2.1" fill="none"/>
<path d="M1062.10 272.27h11.8M1068.00 266.37v11.8" stroke="rgba(0,0,255,0.78)" stroke-width="2.1" fill="none"/>
<path d="M1063.10 272.28h11.8M1069.00 266.38v11.8" stroke="rgba(0,0,255,0.78)" stroke-width="2.1" fill="none"/>
<path d="M1063.90 272.29h11.8M1069.80 266.39v11.8" stroke="rgba(0,0,255,0.78)" stroke-width="2.1" fill="none"/>
<path d="M1064.70 272.30h11.8M1070.60 266.40v11.8" stroke="rgba(0,0,255,0.78)" stroke-width="2.1" fill="none"/>
<path d="M1065.50 272.30h11.8M1071.40 266.40v11.8" stroke="rgba(0,0,255,0.78)" stroke-width="2.1" fill="none"/>
<path d="M1066.30 272.31h11.8M1072.20 266.41v11.8" stroke="rgba(0,0,255,0.78)" stroke-width="2.1" fill="none"/>
<path d="M1067.10 272.32h11.8M1073.00 266.42v11.8" stroke="rgba(0,0,255,0.78)" stroke-width="2.1" fill="none"/>
<path d="M1067.90 272.33h11.8M1073.80 266.43v11.8" stroke="rgba(0,0,255,0.78)" stroke-width="2.1" fill="none"/>
<path d="M1068.70 272.33h11.8M1074.60 266.43v11.8" stroke="rgba(0,0,255,0.78)" stroke-width="2.1" fill="none"/>
<path d="M1069.50 272.34h11.8M1075.40 266.44v11.8" stroke="rgba(0,0,255,0.78)" stroke-width="2.1" fill="none"/>
<path d="M1070.30 272.35h11.8M1076.20 266.45v11.8" stroke="rgba(0,0,255,0.78)" stroke-width="2.1" fill="none"/>
<path d="M1071.10 272.36h11.8M1077.00 266.46v11.8" stroke="rgba(0,0,255,0.78)" stroke-width="2.1" fill="none"/>
<path d="M1072.60 272.37h11.8M1078.50 266.47v11.8" stroke="rgba(0,0,255,0.78)" stroke-width="2.1" fill="none"/>
<path d="M1074.10 272.38h11.8M1080.00 266.48v11.8" stroke="rgba(0,0,255,0.78)" stroke-width="2.1" fill="none"/>
<path d="M1078.30 272.42h11.8M1084.20 266.52v11.8" stroke="rgba(0,0,255,0.78)" stroke-width="2.1" fill="none"/>
<path d="M1079.60 272.43h11.8M1085.50 266.53v11.8" stroke="rgba(0,0,255,0.78)" stroke-width="2.1" fill="none"/>
<path d="M1080.90 272.45h11.8M1086.80 266.55v11.8" stroke="rgba(0,0,255,0.78)" stroke-width="2.1" fill="none"/>
<path d="M1081.90 272.46h11.8M1087.80 266.56v11.8" stroke="rgba(0,0,255,0.78)" stroke-width="2.1" fill="none"/>
<path d="M1083.60 272.47h11.8M1089.50 266.57v11.8" stroke="rgba(0,0,255,0.78)" stroke-width="2.1" fill="none"/>
<path d="M1085.50 272.49h11.8M1091.40 266.59v11.8" stroke="rgba(0,0,255,0.78)" stroke-width="2.1" fill="none"/>
<path d="M1086.70 272.50h11.8M1092.60 266.60v11.8" stroke="rgba(0,0,255,0.78)" stroke-width="2.1" fill="none"/>
</g>
<path d="M313.00 945 v-17 M313.00 105 v17 M523.00 945 v-17 M523.00 105 v17 M733.00 945 v-17 M733.00 105 v17 M943.00 945 v-17 M943.00 105 v17 M188 109.00 h17 M1152 109.00 h-17 M188 213.50 h17 M1152 213.50 h-17 M188 182.04 h13 M1152 182.04 h-13 M188 150.58 h13 M1152 150.58 h-13 M188 132.18 h13 M1152 132.18 h-13 M188 119.13 h13 M1152 119.13 h-13 M188 318.00 h17 M1152 318.00 h-17 M188 286.54 h13 M1152 286.54 h-13 M188 255.08 h13 M1152 255.08 h-13 M188 236.68 h13 M1152 236.68 h-13 M188 223.63 h13 M1152 223.63 h-13 M188 422.50 h17 M1152 422.50 h-17 M188 391.04 h13 M1152 391.04 h-13 M188 359.58 h13 M1152 359.58 h-13 M188 341.18 h13 M1152 341.18 h-13 M188 328.13 h13 M1152 328.13 h-13 M188 527.00 h17 M1152 527.00 h-17 M188 495.54 h13 M1152 495.54 h-13 M188 464.08 h13 M1152 464.08 h-13 M188 445.68 h13 M1152 445.68 h-13 M188 432.63 h13 M1152 432.63 h-13 M188 631.50 h17 M1152 631.50 h-17 M188 600.04 h13 M1152 600.04 h-13 M188 568.58 h13 M1152 568.58 h-13 M188 550.18 h13 M1152 550.18 h-13 M188 537.13 h13 M1152 537.13 h-13 M188 736.00 h17 M1152 736.00 h-17 M188 704.54 h13 M1152 704.54 h-13 M188 673.08 h13 M1152 673.08 h-13 M188 654.68 h13 M1152 654.68 h-13 M188 641.63 h13 M1152 641.63 h-13 M188 840.50 h17 M1152 840.50 h-17 M188 809.04 h13 M1152 809.04 h-13 M188 777.58 h13 M1152 777.58 h-13 M188 759.18 h13 M1152 759.18 h-13 M188 746.13 h13 M1152 746.13 h-13 M188 945.00 h17 M1152 945.00 h-17 M188 913.54 h13 M1152 913.54 h-13 M188 882.08 h13 M1152 882.08 h-13 M188 863.68 h13 M1152 863.68 h-13 M188 850.63 h13 M1152 850.63 h-13" stroke="#000" stroke-width="2" fill="none"/>
<rect x="188" y="105" width="964" height="840" fill="none" stroke="#000" stroke-width="2"/>
<text x="119.2" y="120.00" font-size="27" font-family='"Liberation Serif", serif'>10</text>
<text x="145.2" y="111.00" font-size="19.5" font-family='"Liberation Serif", serif'>0</text>
<text x="103.2" y="224.00" font-size="27" font-family='"Liberation Serif", serif'>10</text>
<rect x="131.8" y="209.80" width="11.7" height="1.4" fill="#000"/>
<text x="145.3" y="215.00" font-size="19.5" font-family='"Liberation Serif", serif'>1</text>
<text x="103.2" y="329.00" font-size="27" font-family='"Liberation Serif", serif'>10</text>
<rect x="131.8" y="314.80" width="11.7" height="1.4" fill="#000"/>
<text x="145.3" y="320.00" font-size="19.5" font-family='"Liberation Serif", serif'>2</text>
<text x="103.2" y="433.00" font-size="27" font-family='"Liberation Serif", serif'>10</text>
<rect x="131.8" y="418.80" width="11.7" height="1.4" fill="#000"/>
<text x="145.3" y="424.00" font-size="19.5" font-family='"Liberation Serif", serif'>3</text>
<text x="103.2" y="538.00" font-size="27" font-family='"Liberation Serif", serif'>10</text>
<rect x="131.8" y="523.80" width="11.7" height="1.4" fill="#000"/>
<text x="145.3" y="529.00" font-size="19.5" font-family='"Liberation Serif", serif'>4</text>
<text x="103.2" y="642.00" font-size="27" font-family='"Liberation Serif", serif'>10</text>
<rect x="131.8" y="627.80" width="11.7" height="1.4" fill="#000"/>
<text x="145.3" y="633.00" font-size="19.5" font-family='"Liberation Serif", serif'>5</text>
<text x="103.2" y="747.00" font-size="27" font-family='"Liberation Serif", serif'>10</text>
<rect x="131.8" y="732.80" width="11.7" height="1.4" fill="#000"/>
<text x="145.3" y="738.00" font-size="19.5" font-family='"Liberation Serif", serif'>6</text>
<text x="103.2" y="851.00" font-size="27" font-family='"Liberation Serif", serif'>10</text>
<rect x="131.8" y="836.80" width="11.7" height="1.4" fill="#000"/>
<text x="145.3" y="842.00" font-size="19.5" font-family='"Liberation Serif", serif'>7</text>
<text x="103.2" y="956.00" font-size="27" font-family='"Liberation Serif", serif'>10</text>
<rect x="131.8" y="941.80" width="11.7" height="1.4" fill="#000"/>
<text x="145.3" y="947.00" font-size="19.5" font-family='"Liberation Serif", serif'>8</text>
<text x="313.00" y="987" font-size="33" text-anchor="middle" font-family='"Liberation Serif", serif'>0.5</text>
<text x="523.00" y="987" font-size="33" text-anchor="middle" font-family='"Liberation Serif", serif'>0.6</text>
<text x="733.00" y="987" font-size="33" text-anchor="middle" font-family='"Liberation Serif", serif'>0.7</text>
<text x="943.00" y="987" font-size="33" text-anchor="middle" font-family='"Liberation Serif", serif'>0.8</text>
<text x="1151.80" y="987" font-size="33" text-anchor="middle" font-family='"Liberation Serif", serif'>0.9</text>
<text transform="translate(94 524.2) rotate(-90)" text-anchor="middle" font-size="34" fill="#0000ff" font-family='"Liberation Serif", serif'>Mass fraction</text>
<text x="613.5" y="1020" font-size="33" fill="#0000ff" font-style="italic" font-family='"Liberation Serif", serif'>M</text>
<text x="643.5" y="1020" font-size="33" fill="#0000ff" font-style="italic" font-family='"Liberation Serif", serif'>r</text>
<path d="M660.8 1023.5 L672.2 997" stroke="#0000ff" stroke-width="1.9" fill="none"/>
<text x="678" y="1020" font-size="33" fill="#0000ff" font-style="italic" font-family='"Liberation Serif", serif'>M</text>
<circle cx="717.4" cy="1017.5" r="7.8" fill="none" stroke="#0000ff" stroke-width="1.1"/>
<circle cx="717.4" cy="1017.5" r="1.7" fill="#0000ff"/>
<rect x="1251" y="724" width="129.7" height="156" fill="#fff" stroke="#000" stroke-width="2"/>
<path d="M1260 740 H1301" stroke="rgba(0,0,0,0.75)" stroke-width="4.20" stroke-dasharray="12.5 12.5"/>
<path d="M1260 771 H1301" stroke="rgba(255,0,0,0.72)" stroke-width="4.20" stroke-linecap="square"/>
<use href="#m16" x="1281" y="771"/>
<path d="M1260 802 H1301" stroke="rgba(0,0,255,0.72)" stroke-width="4.20" stroke-linecap="square"/>
<use href="#m18" x="1281" y="802"/>
<path d="M1260 833 H1301" stroke="rgba(255,0,0,0.72)" stroke-width="4.20" stroke-dasharray="6.25 10.42 2.08 10.42"/>
<path d="M1260 864.8 H1301" stroke="rgba(0,0,255,0.72)" stroke-width="4.20" stroke-dasharray="2.08 6.25"/>
<path d="M1275.10 864.80h11.8M1281.00 858.90v11.8" stroke="rgba(0,0,255,0.78)" stroke-width="2.1" fill="none"/>
<text x="1318" y="746.00" font-size="22" font-family='"Liberation Serif", serif'>N-15</text>
<text x="1318" y="777.30" font-size="22" font-family='"Liberation Serif", serif'>O-16</text>
<text x="1318" y="808.30" font-size="22" font-family='"Liberation Serif", serif'>O-18</text>
<text x="1318" y="839.00" font-size="22" font-family='"Liberation Serif", serif'>F-19</text>
<text x="1318" y="870.00" font-size="22" font-family='"Liberation Serif", serif'>Ne-22</text>
</svg></body></html>
